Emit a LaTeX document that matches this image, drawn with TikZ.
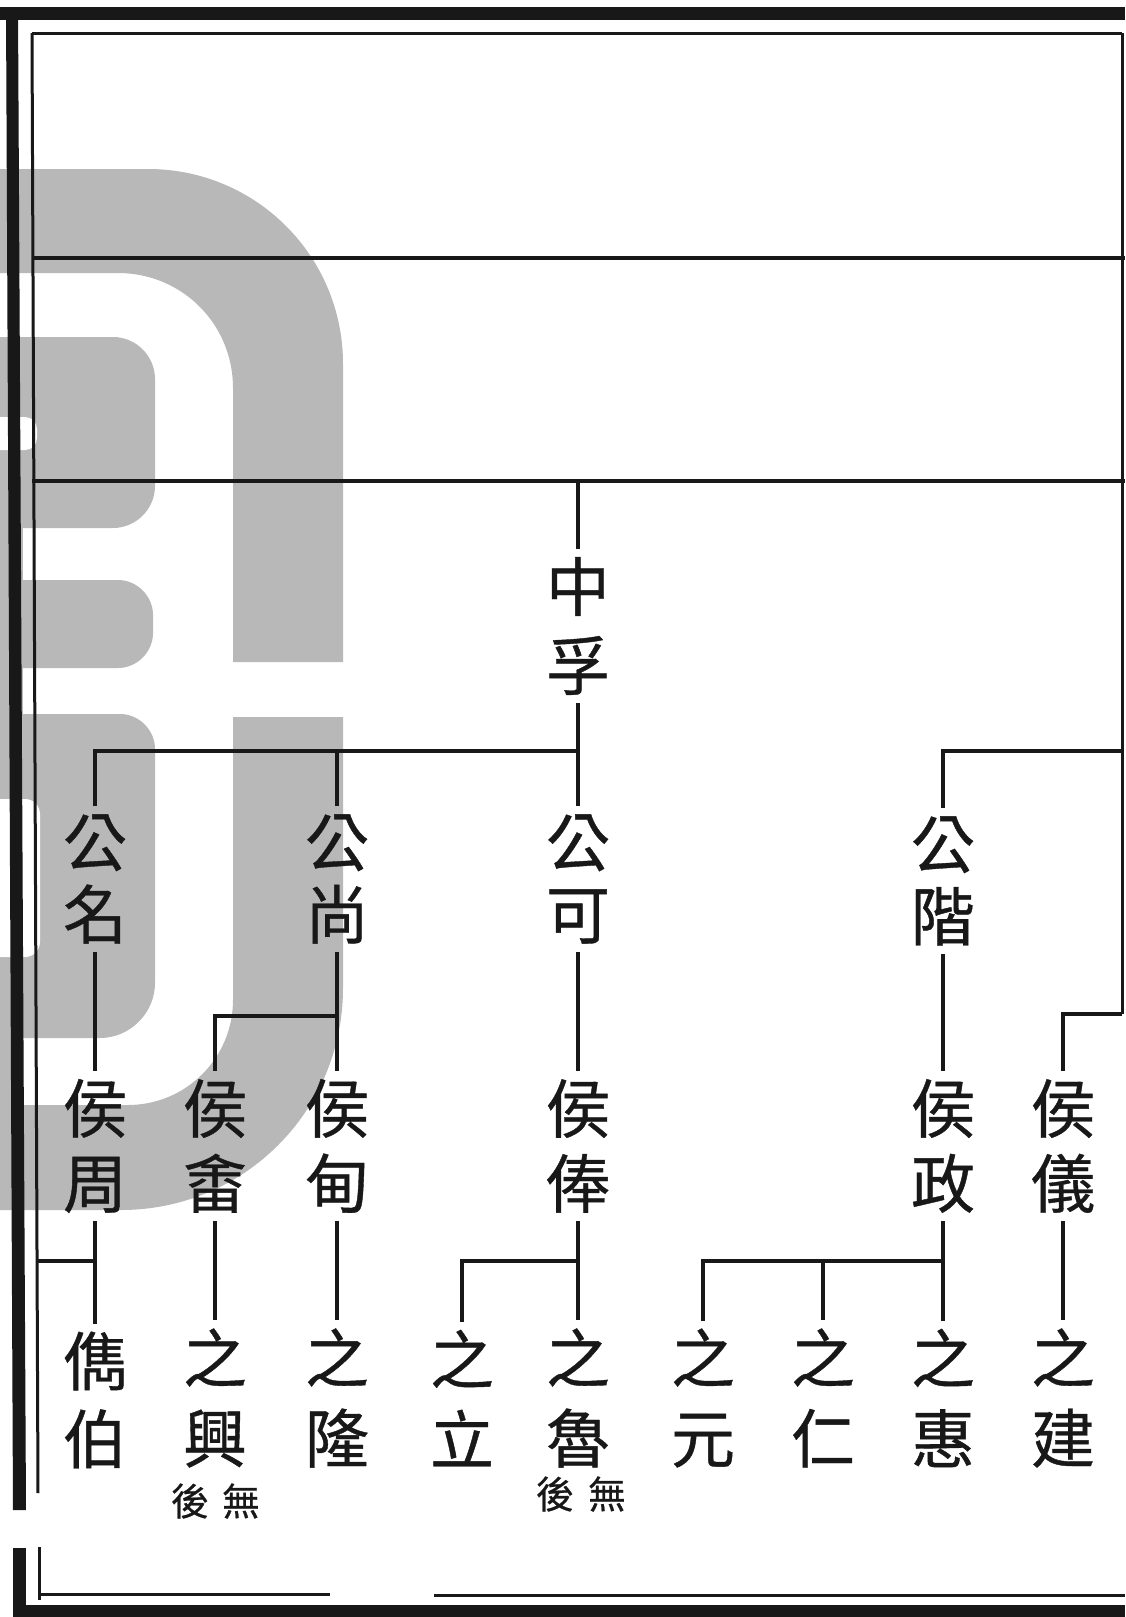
\documentclass[tikz,border=0pt]{standalone}
\usepackage{fontspec}
\newfontfamily\cjk[FakeBold=0.6]{Noto Sans CJK TC}
\definecolor{wm}{RGB}{184,184,184}
\definecolor{ink}{RGB}{24,24,24}
\begin{document}
\begin{tikzpicture}[x=1pt,y=-1pt,
  nm/.style={font=\cjk\fontsize{64}{#1}\selectfont, align=center, inner sep=0pt, outer sep=8pt, text=ink},
  nm/.default=76,
  sm/.style={font=\cjk\fontsize{38}{40}\selectfont, inner sep=0pt, text=ink},
  ln/.style={draw=ink, line width=3.6pt},
  rulel/.style={draw=ink, line width=4.2pt},
  thinb/.style={draw=ink, line width=3pt}]
\useasboundingbox (0,0) rectangle (1125,1617);
\fill[white] (0,0) rectangle (1125,1617);

% watermark
\fill[wm] (0,169) -- (148,169) .. controls (256,169) and (343,256) .. (343,364) -- (343,662) -- (233,662) -- (233,388) .. controls (233,324) and (182,273) .. (118,273) -- (0,273) -- cycle;
\fill[wm] (0,337) -- (113,337) .. controls (136,337) and (155,356) .. (155,379) -- (155,486) .. controls (155,509) and (136,528) .. (113,528) -- (0,528) -- cycle;
\fill[wm] (0,580) -- (118,580) .. controls (137,580) and (153,596) .. (153,615) -- (153,633) .. controls (153,652) and (137,668) .. (118,668) -- (0,668) -- cycle;
\fill[wm] (0,714) -- (120,714) .. controls (139,714) and (155,730) .. (155,749) -- (155,983) .. controls (155,1013) and (130,1038) .. (100,1038) -- (0,1038) -- cycle;
\fill[wm] (233,717) -- (343,717) -- (343,988) .. controls (343,1111) and (244,1210) .. (121,1210) -- (0,1210) -- (0,1105) -- (128,1105) .. controls (186,1105) and (233,1058) .. (233,1000) -- cycle;
\fill[wm] (0,337) rectangle (23,1210);
\fill[white, rounded corners=12] (-20,417) rectangle (37,450);
\fill[white, rounded corners=15] (-20,799) rectangle (40,957);

% frame
\fill[ink] (0,7) rectangle (1125,20);
\fill[ink] (6,7) -- (18,7) -- (26,1510) -- (13,1510) -- cycle;
\fill[ink] (13,1548) rectangle (26,1617);
\fill[ink] (13,1605) rectangle (1125,1617);
\draw[thinb] (32,33) -- (38,1493);
\draw[thinb] (39,1547) -- (39,1600);
\draw[thinb] (32,33) -- (1122,33);
\draw[thinb] (1122,33) -- (1122,1014);
\draw[rulel] (32,258) -- (1125,258);
\draw[rulel] (32,481) -- (1125,481);
\draw[thinb] (38,1594) -- (330,1594);
\draw[thinb] (434,1595) -- (1125,1595);

% names
\node[nm=79] (zf) at (578,626) {中\\孚};
\node[nm=72] (gm) at (95,879) {公\\名};
\node[nm=72] (gs) at (337,879) {公\\尚};
\node[nm=72] (gk) at (578,879) {公\\可};
\node[nm=72] (gj) at (943,881) {公\\階};
\node[nm=75] (hz) at (95,1146) {侯\\周};
\node[nm=75] (hy) at (215,1146) {侯\\畬};
\node[nm=75] (hd) at (337,1146) {侯\\甸};
\node[nm=75] (hf) at (578,1146) {侯\\俸};
\node[nm=75] (hzg) at (943,1146) {侯\\政};
\node[nm=75] (hyi) at (1063,1146) {侯\\儀};
\node[nm=78] (jb) at (95,1400) {儁\\伯};
\node[nm=80] (zx) at (215,1398) {之\\興};
\node[nm=80] (zl) at (337,1398) {之\\隆};
\node[nm=80] (zli) at (462,1398) {之\\立};
\node[nm=80] (zlu) at (578,1398) {之\\魯};
\node[nm=80] (zy) at (703,1398) {之\\元};
\node[nm=80] (zr) at (823,1398) {之\\仁};
\node[nm=80] (zh) at (943,1398) {之\\惠};
\node[nm=80] (zj) at (1063,1398) {之\\建};
\node[sm] (n1a) at (190,1501) {後};
\node[sm] (n1b) at (241,1501) {無};
\node[sm] (n2a) at (555,1494) {後};
\node[sm] (n2b) at (607,1494) {無};

% connectors
\coordinate (t1) at (578,481);
\coordinate (b1) at (578,751);
\coordinate (b1r) at (1122,751);
\coordinate (b2) at (337,1016);
\coordinate (b3) at (1122,1014);
\coordinate (b4) at (38,1261);
\coordinate (b5) at (578,1261);
\coordinate (b6) at (943,1261);

\draw[ln] (t1) -- (zf.north);
\draw[ln] (zf.south) -- (gk.north);
\draw[ln] (gm.north) |- (b1);
\draw[ln] (gs.north) -- (gs.north |- b1);
\draw[ln] (gj.north) |- (b1r);
\draw[ln] (gm.south) -- (hz.north);
\draw[ln] (gs.south) -- (hd.north);
\draw[ln] (hy.north) |- (b2);
\draw[ln] (gk.south) -- (hf.north);
\draw[ln] (gj.south) -- (hzg.north);
\draw[ln] (hyi.north) |- (b3);
\draw[ln] (hz.south) -- (jb.north);
\draw[ln] (b4) -- (hz.south |- b4);
\draw[ln] (hy.south) -- (zx.north);
\draw[ln] (hd.south) -- (zl.north);
\draw[ln] (hf.south) -- (zlu.north);
\draw[ln] (zli.north) |- (b5);
\draw[ln] (hzg.south) -- (zh.north);
\draw[ln] (zy.north) |- (b6);
\draw[ln] (zr.north) -- (zr.north |- b6);
\draw[ln] (hyi.south) -- (zj.north);
\end{tikzpicture}
\end{document}
